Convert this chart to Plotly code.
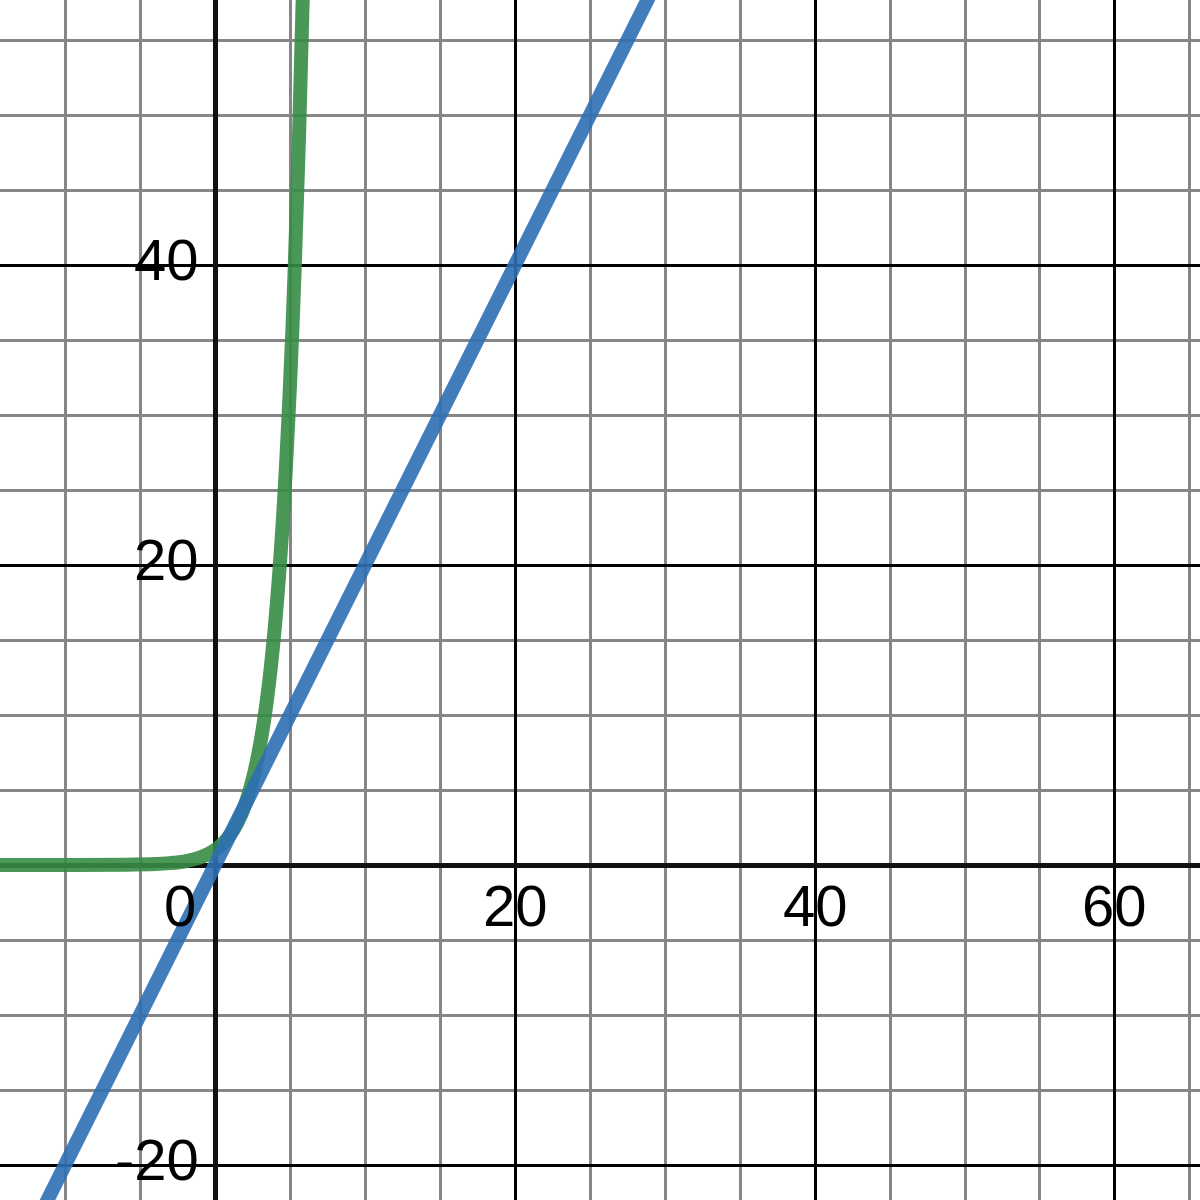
import plotly.graph_objects as go

# values
line_x = [-12, 30]
line_y = [-24, 60]

exp_x = [-15, -10, -6, -4, -3, -2, -1, 0, 0.5, 1, 1.5, 2, 2.5, 3, 3.5, 4, 4.5, 5, 5.3, 5.6, 5.9]
exp_y = [0, 0.001, 0.02, 0.06, 0.125, 0.25, 0.5, 1, 1.41, 2, 2.83, 4, 5.66, 8, 11.3, 16, 22.6, 32, 39.4, 48.5, 59.7]

x_ticks = [0, 20, 40, 60]
y_ticks = [-20, 20, 40]

x_range = [-14.333, 65.667]
y_range = [-22.333, 57.667]

fig = go.Figure()
fig.add_trace(go.Scatter(x=exp_x, y=exp_y, mode="lines", line_shape="spline",
                         line=dict(color="#388c46", width=14), opacity=0.9))
fig.add_trace(go.Scatter(x=line_x, y=line_y, mode="lines",
                         line=dict(color="#2d70b3", width=14), opacity=0.9))

label_font = dict(family="Liberation Sans, Arial, sans-serif", size=58, color="black")
annotations = []
for v in x_ticks:
    # desmos puts the origin label left of the y axis
    annotations.append(dict(x=v, y=0, text=str(v), showarrow=False, font=label_font,
                            xanchor="right" if v == 0 else "center", yanchor="middle",
                            xshift=-17 if v == 0 else 0, yshift=-40))
for v in y_ticks:
    annotations.append(dict(x=0, y=v, text=str(v), showarrow=False, font=label_font,
                            xanchor="right", yanchor="middle", xshift=-14, yshift=6))

axis_common = dict(
    showgrid=True, gridcolor="black", gridwidth=2.5, dtick=20, tick0=0,
    minor=dict(dtick=5, showgrid=True, gridcolor="#868686", gridwidth=2.5),
    zeroline=True, zerolinecolor="#111111", zerolinewidth=5,
    showticklabels=False, ticks="", showline=False, fixedrange=True,
)

fig.update_xaxes(range=x_range, **axis_common)
fig.update_yaxes(range=y_range, **axis_common)
fig.update_layout(
    width=1200, height=1200, margin=dict(l=0, r=0, t=0, b=0),
    plot_bgcolor="white", paper_bgcolor="white", showlegend=False,
    annotations=annotations,
)

# drop the default page margin so the plot sits at the window corner
fig.write_html("out.html", post_script="document.body.style.margin='0';",
               config={"displayModeBar": False})
